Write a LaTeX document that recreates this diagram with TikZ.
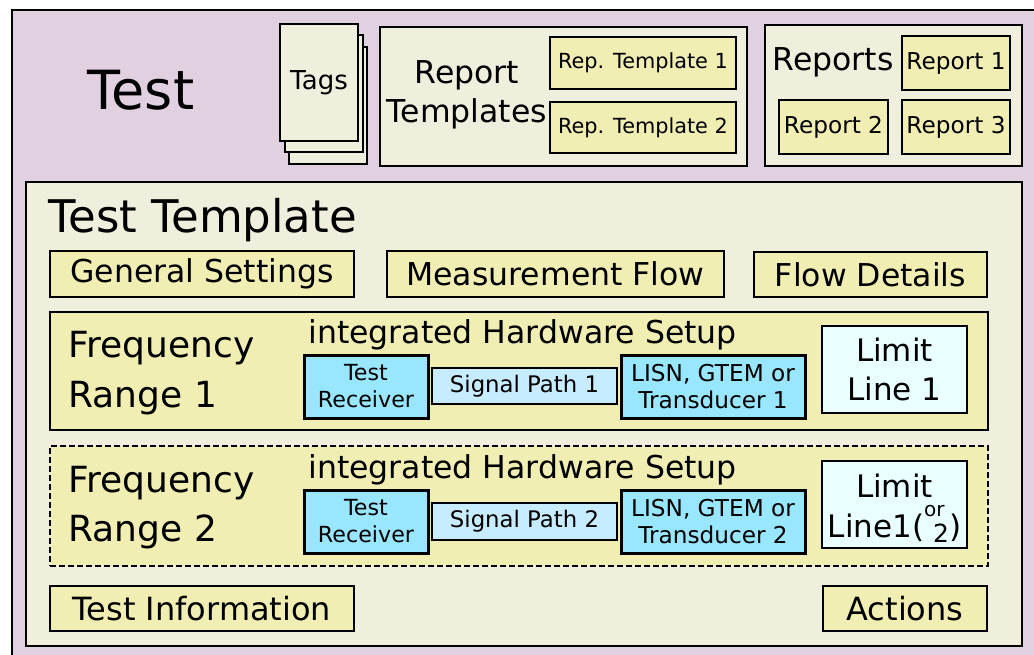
\documentclass[tikz,border=0pt]{standalone}
\usepackage{fontspec}
\setmainfont{DejaVu Sans}
\definecolor{mauve}{HTML}{E0D0E0}
\definecolor{beige}{HTML}{F0EEDC}
\definecolor{ylw}{HTML}{F0EEB2}
\definecolor{cyanbx}{HTML}{99E6FF}
\definecolor{sigbl}{HTML}{C8ECFF}
\definecolor{limbx}{HTML}{EAFFFF}
\newcommand{\bxnode}[7]{%
  \pgfmathsetmacro{\bxW}{#5-#3}\pgfmathsetmacro{\bxH}{#6-#4}%
  \pgfmathsetmacro{\bxX}{(#3+#5)/2}\pgfmathsetmacro{\bxY}{(#4+#6)/2}%
  \node[#2, minimum width=\bxW pt, minimum height=\bxH pt] (#1) at (\bxX,\bxY) {#7};}
\tikzset{
  bx/.style={draw=black, line width=2pt, inner sep=0pt, align=center},
  ybx/.style={bx, fill=ylw},
  cbx/.style={bx, fill=cyanbx, line width=3pt},
  sbx/.style={bx, fill=sigbl, line width=1.5pt},
  lbx/.style={bx, fill=limbx},
  frep/.style={font=\fontsize{20.8}{25}\selectfont},
  frecv/.style={font=\fontsize{22.2}{27}\selectfont},
  fsig/.style={font=\fontsize{22.8}{27}\selectfont},
  flisn/.style={font=\fontsize{23.2}{27}\selectfont},
  frpt/.style={font=\fontsize{23.2}{28}\selectfont},
  ftag/.style={font=\fontsize{26}{30}\selectfont},
  fihs/.style={font=\fontsize{31.5}{36}\selectfont},
  flim/.style={font=\fontsize{31}{39}\selectfont},
  flbl/.style={font=\fontsize{31.5}{38}\selectfont},
  fbot/.style={font=\fontsize{32}{38}\selectfont},
  ffr/.style={font=\fontsize{36}{44}\selectfont},
  ftt/.style={font=\fontsize{45}{52}\selectfont},
  ftest/.style={font=\fontsize{54}{60}\selectfont},
}
\begin{document}
\begin{tikzpicture}[x=1pt,y=-1pt]
\useasboundingbox (0,0) rectangle (1034,655);
\clip (0,0) rectangle (1034,655);
% outer Test box
\bxnode{test}{bx, fill=mauve}{12}{10}{1100}{720}{}
\node[ftest, anchor=base] (testlbl) at (141,110) {Test};
% Tags
\bxnode{tag3}{bx, fill=beige}{289}{47}{367}{164}{}
\bxnode{tag2}{bx, fill=beige}{284.5}{35.5}{362.5}{152.5}{}
\bxnode{tag1}{bx, fill=beige, ftag}{280}{24}{358}{141}{Tags}
% Report templates
\bxnode{rt}{bx, fill=beige}{380}{27}{747}{166}{}
\node[flbl, anchor=base] (rtl1) at (467,84) {Report};
\node[flbl, anchor=base] (rtl2) at (467,123) {Templates};
\bxnode{rt1}{ybx, frep}{550}{37}{736}{89}{Rep. Template 1}
\bxnode{rt2}{ybx, frep}{550}{102}{736}{153}{Rep. Template 2}
% Reports
\bxnode{rp}{bx, fill=beige}{765}{25}{1022}{166}{}
\node[flbl, anchor=base] (rpl) at (833,71) {Reports};
\bxnode{rp1}{ybx, frpt}{902}{36}{1010}{90}{Report 1}
\bxnode{rp2}{ybx, frpt}{779}{100}{888}{154}{Report 2}
\bxnode{rp3}{ybx, frpt}{902}{100}{1010}{154}{Report 3}
% Test Template
\bxnode{tt}{bx, fill=beige}{26}{182}{1022}{646}{}
\node[ftt, anchor=base west] (ttl) at (45,233) {Test Template};
\bxnode{gs}{ybx, flbl}{50}{251}{354}{297}{General Settings}
\bxnode{mf}{ybx, flbl}{387}{251}{724}{297}{Measurement Flow}
\bxnode{fd}{ybx, flbl}{754}{252}{987}{297}{Flow Details}
% Frequency Range 1
\bxnode{fr1}{ybx}{50}{312}{988}{430}{}
\node[ffr, anchor=base west] (fr1a) at (65,357) {Frequency};
\node[ffr, anchor=base west] (fr1b) at (65,407) {Range 1};
\node[fihs, anchor=base west] (ihs1) at (305,343) {integrated Hardware Setup};
\bxnode{tr1}{cbx, frecv}{304}{355}{428}{418}{Test\\Receiver}
\bxnode{sp1}{sbx, fsig}{432}{368}{617}{404}{Signal Path 1}
\bxnode{ls1}{cbx, flisn}{621}{355}{805}{418}{LISN, GTEM or\\Transducer 1}
\bxnode{ll1}{lbx, flim}{822}{326}{967}{413}{Limit\\Line 1}
% Frequency Range 2
\bxnode{fr2}{ybx, dash pattern=on 6pt off 3pt}{50}{446}{988}{566}{}
\node[ffr, anchor=base west] (fr2a) at (65,492) {Frequency};
\node[ffr, anchor=base west] (fr2b) at (65,541) {Range 2};
\node[fihs, anchor=base west] (ihs2) at (305,478) {integrated Hardware Setup};
\bxnode{tr2}{cbx, frecv}{304}{490}{428}{553}{Test\\Receiver}
\bxnode{sp2}{sbx, fsig}{432}{503}{617}{540}{Signal Path 2}
\bxnode{ls2}{cbx, flisn}{621}{490}{805}{553}{LISN, GTEM or\\Transducer 2}
\bxnode{ll2}{lbx}{822}{461}{967}{548}{}
\node[flim, anchor=base] (ll2a) at (894.5,497) {Limit};
\node[flim, anchor=base] (ll2b) at (894.5,537) {Line1(\rlap{\raisebox{21pt}{\fontsize{20}{20}\selectfont or}}\hspace{9pt}\raisebox{-5pt}{\fontsize{25}{25}\selectfont 2})};
% bottom row
\bxnode{ti}{ybx, fbot}{50}{586}{354}{631}{Test Information}
\bxnode{ac}{ybx, fbot}{823}{586}{987}{631}{Actions}
\end{tikzpicture}
\end{document}
